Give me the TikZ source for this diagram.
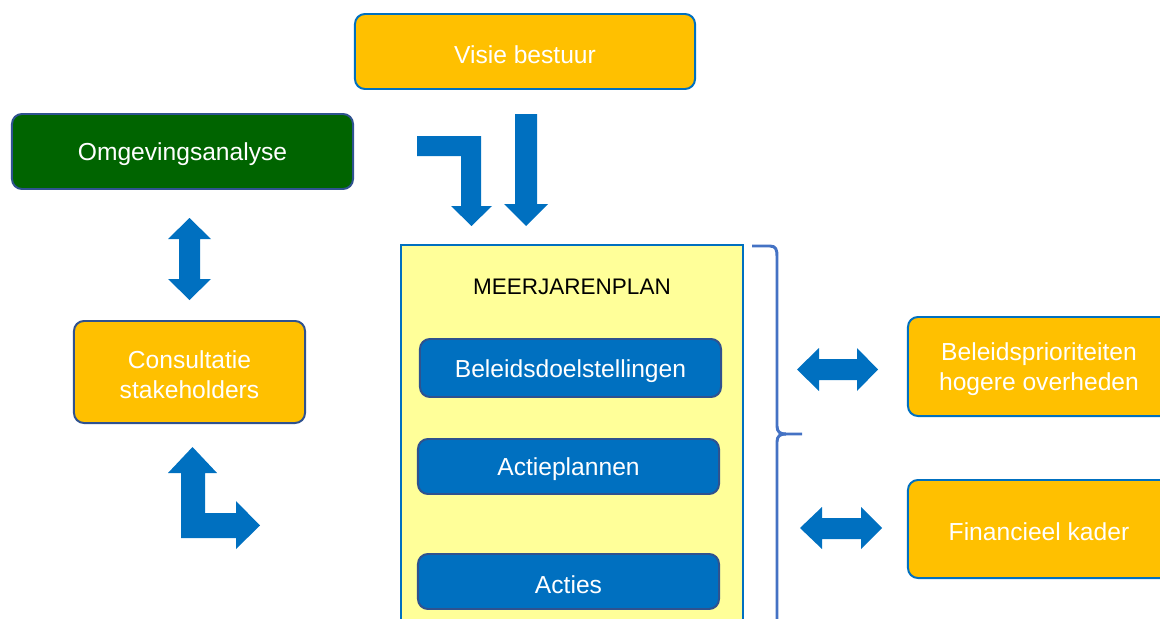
\documentclass[tikz,border=0pt]{standalone}
\usepackage{fontspec}
\setmainfont{Liberation Sans}
\usepackage{tikz}
\usetikzlibrary{shapes}

\definecolor{Oranje}{HTML}{FFC000}
\definecolor{Blauw}{HTML}{0070C0}
\definecolor{Groen}{HTML}{006400}
\definecolor{Geel}{HTML}{FFFF99}
\definecolor{Rand}{HTML}{2F528F}
\definecolor{Accolade}{HTML}{4472C4}

\tikzset{
  blok/.style={rounded corners=0.25cm, line width=1.4pt, align=center, text=white,
    font=\fontsize{17.5}{21.5}\selectfont},
  tekst/.style={text=white, align=center, font=\fontsize{17.5}{21.5}\selectfont, yshift=-2pt},
  oranjeblok/.style={blok, fill=Oranje, draw=Blauw},
  blauwblok/.style={blok, fill=Blauw, draw=Rand},
  pijl/.style={fill=Blauw, draw=none}
}

\begin{document}
\begin{tikzpicture}[x=0.025cm, y=-0.025cm]
    \useasboundingbox (0,0) rectangle (1160,619);
    \clip (0,0) rectangle (1160,619);

    % boxes at the top and on the left
    \node [oranjeblok, minimum width=8.5cm, minimum height=1.875cm] (visie) at (525,51.5) {};
    \node [tekst] at (visie) {Visie bestuur};
    \node [blok, fill=Groen, draw=Rand, minimum width=8.525cm, minimum height=1.875cm] (omgeving) at (182.5,151.5) {};
    \node [tekst] at (omgeving) {Omgevingsanalyse};
    \node [oranjeblok, draw=Rand, minimum width=5.775cm, minimum height=2.55cm] (consultatie) at (189.5,372) {};
    \node [tekst] at (consultatie) {Consultatie\\stakeholders};

    % meerjarenplan
    \node [draw=Blauw, fill=Geel, line width=1.2pt, minimum width=8.55cm, minimum height=10cm] (plan) at (572,445) {};
    \node [font=\fontsize{16}{19}\selectfont] (titel) at (572,287) {MEERJARENPLAN};
    \node [blauwblok, minimum width=7.525cm, minimum height=1.45cm] (doelen) at (570.5,368) {};
    \node [tekst] at (doelen) {Beleidsdoelstellingen};
    \node [blauwblok, minimum width=7.525cm, minimum height=1.375cm] (actieplannen) at (568.5,466.5) {};
    \node [tekst] at (actieplannen) {Actieplannen};
    \node [blauwblok, minimum width=7.525cm, minimum height=1.375cm] (acties) at (568.5,581.5) {};
    \node [tekst] at (acties) {Acties};

    % boxes on the right
    \node [oranjeblok, minimum width=6.55cm, minimum height=2.475cm] (prioriteiten) at (1039,366.5) {};
    \node [tekst] at (prioriteiten) {Beleidsprioriteiten\\hogere overheden};
    \node [oranjeblok, minimum width=6.55cm, minimum height=2.45cm] (kader) at (1039,529) {};
    \node [tekst] at (kader) {Financieel kader};

    % block arrows
    \fill [pijl] (417,136) -- (481,136) -- (481,206) -- (492,206) -- (471.5,226) -- (451,206) -- (461,206) -- (461,156) -- (417,156) -- cycle;
    \fill [pijl] (515,114) -- (537,114) -- (537,204) -- (548,204) -- (526,226) -- (504,204) -- (515,204) -- cycle;
    \fill [pijl] (189.5,218) -- (211,239) -- (200,239) -- (200,279) -- (211,279) -- (189.5,300) -- (168,279) -- (179,279) -- (179,239) -- (168,239) -- cycle;
    \fill [pijl] (192.5,447) -- (217,473) -- (205,473) -- (205,513) -- (236,513) -- (236,501) -- (260,525.5) -- (236,549) -- (236,538) -- (181,538) -- (181,473) -- (168,473) -- cycle;
    \fill [pijl] (797,369.5) -- (819,348) -- (819,359) -- (857,359) -- (857,348) -- (878,369.5) -- (857,391) -- (857,380) -- (819,380) -- (819,391) -- cycle;
    \fill [pijl] (800,528) -- (822,507) -- (822,518) -- (861,518) -- (861,507) -- (882,528) -- (861,549) -- (861,539) -- (822,539) -- (822,549) -- cycle;

    % brace
    \draw [Accolade, line width=2.1pt] (752,246) -- (770,246) .. controls (776,246) and (777,250) .. (777,256) -- (777,426) .. controls (777,432) and (780,434) .. (786,434) -- (802,434);
    \draw [Accolade, line width=2.1pt] (786,434) .. controls (780,434) and (777,436) .. (777,442) -- (777,640);

\end{tikzpicture}
\end{document}
